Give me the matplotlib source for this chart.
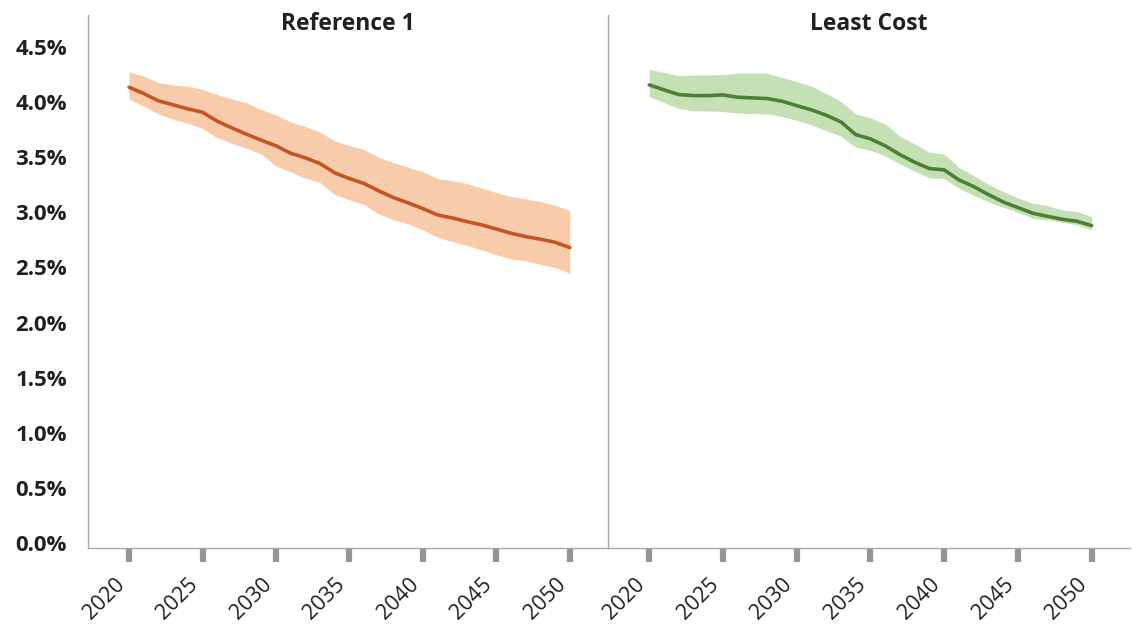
import numpy as np
import matplotlib
matplotlib.use("Agg")
import matplotlib.pyplot as plt
from matplotlib.transforms import ScaledTranslation

# Data (percent)
years = list(range(2020, 2051))

ref_mid = [4.135, 4.077, 4.011, 3.975, 3.938, 3.908, 3.826, 3.766, 3.708, 3.654,
           3.603, 3.536, 3.494, 3.442, 3.358, 3.306, 3.261, 3.194, 3.134, 3.085,
           3.034, 2.976, 2.949, 2.916, 2.886, 2.849, 2.810, 2.780, 2.756, 2.728, 2.680]
ref_high = [4.274, 4.235, 4.177, 4.156, 4.144, 4.117, 4.068, 4.029, 3.993, 3.932,
            3.884, 3.820, 3.778, 3.727, 3.648, 3.606, 3.569, 3.500, 3.451, 3.409,
            3.367, 3.306, 3.288, 3.261, 3.221, 3.179, 3.143, 3.122, 3.097, 3.064, 3.016]
ref_low = [4.026, 3.962, 3.893, 3.845, 3.808, 3.760, 3.675, 3.627, 3.581, 3.527,
           3.421, 3.367, 3.309, 3.270, 3.161, 3.113, 3.070, 2.985, 2.934, 2.895,
           2.840, 2.774, 2.734, 2.701, 2.659, 2.616, 2.577, 2.559, 2.529, 2.498, 2.447]

lc_mid = [4.156, 4.111, 4.068, 4.059, 4.059, 4.065, 4.044, 4.038, 4.032, 4.008,
          3.968, 3.929, 3.881, 3.820, 3.705, 3.666, 3.603, 3.524, 3.454, 3.397,
          3.385, 3.294, 3.234, 3.161, 3.094, 3.043, 2.992, 2.964, 2.937, 2.919, 2.880]
lc_high = [4.298, 4.268, 4.241, 4.244, 4.247, 4.250, 4.262, 4.262, 4.262, 4.223,
           4.186, 4.144, 4.077, 4.005, 3.893, 3.857, 3.802, 3.690, 3.621, 3.545,
           3.527, 3.409, 3.333, 3.255, 3.188, 3.131, 3.082, 3.061, 3.022, 3.007, 2.961]
lc_low = [4.050, 3.996, 3.944, 3.920, 3.920, 3.914, 3.899, 3.896, 3.893, 3.869,
          3.835, 3.793, 3.742, 3.690, 3.590, 3.563, 3.512, 3.439, 3.373, 3.312,
          3.306, 3.218, 3.152, 3.097, 3.046, 3.001, 2.946, 2.931, 2.910, 2.886, 2.840]

titles = ["Reference 1", "Least Cost"]
xticks = [2020, 2025, 2030, 2035, 2040, 2045, 2050]
yticks = [0.0, 0.5, 1.0, 1.5, 2.0, 2.5, 3.0, 3.5, 4.0, 4.5]

plt.rcParams['font.family'] = ['Open Sans', 'DejaVu Sans']

fig = plt.figure(figsize=(11.32, 6.33), dpi=100)
ax1 = fig.add_axes([0.0777, 0.1343, 0.4594, 0.842])
ax2 = fig.add_axes([0.5371, 0.1343, 0.4611, 0.842])

panels = [
    (ax1, ref_mid, ref_low, ref_high, '#C65526', '#F8CCAA'),
    (ax2, lc_mid, lc_low, lc_high, '#4F7F36', '#C6E0B5'),
]

# shift the rotated year labels to the right, like the original
shift = ScaledTranslation(17 / 100, -3 / 100, fig.dpi_scale_trans)

for i, (ax, mid, low, high, line_col, band_col) in enumerate(panels):
    ax.fill_between(years, low, high, color=band_col, linewidth=0)
    ax.plot(years, mid, color=line_col, linewidth=2.6, solid_capstyle='round')
    ax.set_xlim(2017.2, 2052.6)
    ax.set_ylim(-0.045, 4.79)
    ax.set_xticks(xticks)
    ax.set_xticklabels([str(x) for x in xticks], rotation=45, ha='right',
                       va='top', fontsize=15.5, color='#231F20')
    for lab in ax.get_xticklabels():
        lab.set_transform(lab.get_transform() + shift)
    ax.tick_params(axis='x', length=10, width=4.5, color='#939598', pad=9)
    for s in ['top', 'right']:
        ax.spines[s].set_visible(False)
    ax.spines['left'].set_color('#A7A9AC')
    ax.spines['bottom'].set_color('#A7A9AC')
    ax.spines['left'].set_linewidth(1)
    ax.spines['bottom'].set_linewidth(1)
    ax.text(0.5, 0.984, titles[i], transform=ax.transAxes, ha='center',
            va='center', fontsize=16.5, fontweight='bold', color='#231F20')
    ax.set_yticks(yticks)
    if i == 0:
        ax.set_yticklabels([f'{y:.1f}%' for y in yticks], fontsize=16,
                           fontweight='bold', color='#231F20')
        ax.tick_params(axis='y', length=0, pad=15)
    else:
        ax.set_yticklabels([])
        ax.tick_params(axis='y', length=0)

fig.savefig('out.png', dpi=100, facecolor='white')
